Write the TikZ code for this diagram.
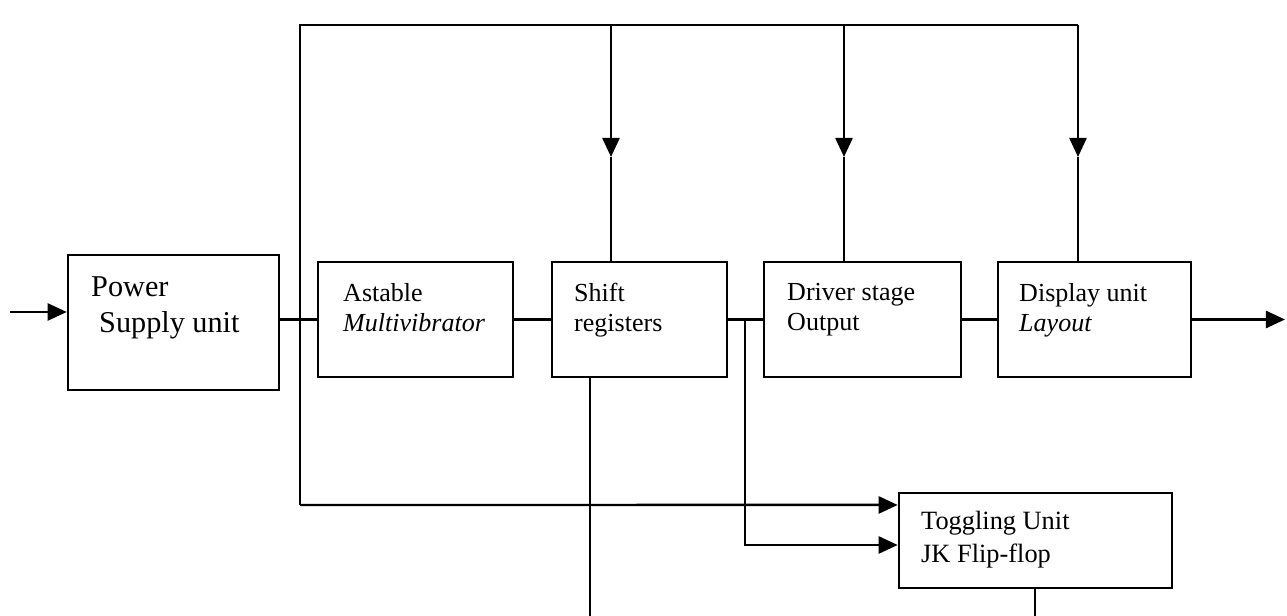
\documentclass[tikz,border=0pt]{standalone}
\usepackage{fontspec}
\setmainfont{Liberation Serif}
\usetikzlibrary{arrows.meta}

\begin{document}
\begin{tikzpicture}[x=0.01cm, y=-0.01cm, >={Triangle[length=1.9mm,width=1.7mm]}, line width=0.7pt,
	   blk/.style={draw, rectangle, inner sep=0pt, minimum height=1.15cm},
	   txt/.style={inner sep=0pt, anchor=north west, align=left, font=\fontsize{7.4}{8.6}\selectfont}]
	  \useasboundingbox (0,0) rectangle (1287,616);
	  % blocks
	  \node[blk, minimum width=2.11cm, minimum height=1.35cm] (psu) at (173.5,322.5) {};
	  \node[blk, minimum width=1.95cm] (ast) at (415.5,319.5) {};
	  \node[blk, minimum width=1.75cm] (sft) at (639.5,319.5) {};
	  \node[blk, minimum width=1.97cm] (drv) at (862.5,319.5) {};
	  \node[blk, minimum width=1.93cm] (dsp) at (1094.5,319.5) {};
	  \node[blk, minimum width=2.73cm, minimum height=0.95cm] (tgl) at (1035.5,540.5) {};
	  % labels
	  \node[txt, font=\fontsize{8.6}{10.4}\selectfont] (psuT) at (90,275) {Power\\ \hspace{0.8mm}Supply unit};
	  \node[txt] (astT) at (342,282) {Astable\\ \textit{Multivibrator}};
	  \node[txt] (sftT) at (573,282) {Shift\\ registers};
	  \node[txt] (drvT) at (786,282) {Driver stage\\ Output};
	  \node[txt] (dspT) at (1018,282) {Display unit\\ \textit{Layout}};
	  \node[txt, font=\fontsize{7.5}{9.4}\selectfont] (tglT) at (920,510) {Toggling Unit\\ JK Flip-flop};
	  % bus points
	  \coordinate (in) at (10,312);
	  \coordinate (out) at (1285,319.5);
	  \coordinate (t0) at (300,25);
	  \coordinate (t1) at (611,25); \coordinate (a1) at (611,157);
	  \coordinate (t2) at (844,25); \coordinate (a2) at (844,157);
	  \coordinate (t3) at (1078,25); \coordinate (a3) at (1078,157);
	  \coordinate (b0) at (300,505);
	  \coordinate (br) at (745,319.5);
	  \coordinate (sd) at (590,616);
	  \coordinate (td) at (1035,616);
	  % main chain
	  \draw[->] (in) -- (in -| psu.west);
	  \draw (ast.west -| psu.east) -- (ast.west); \draw (ast) -- (sft); \draw (sft) -- (drv); \draw (drv) -- (dsp);
	  \draw[->] (dsp.east) -- (out);
	  % supply bus
	  \draw (b0) -- (t0) -- (t3);
	  \draw[->] (t1) -- (a1); \draw (a1) -- (a1 |- sft.north);
	  \draw[->] (t2) -- (a2); \draw (a2) -- (a2 |- drv.north);
	  \draw[->] (t3) -- (a3); \draw (a3) -- (a3 |- dsp.north);
	  % toggling inputs
	  \draw[->] (b0) -- ([yshift=3.55mm]tgl.west);
	  \draw[->] (br) |- ([yshift=-0.45mm]tgl.west);
	  % outputs downward
	  \draw (sd |- sft.south) -- (sd);
	  \draw (td |- tgl.south) -- (td);
	\end{tikzpicture}
\end{document}
